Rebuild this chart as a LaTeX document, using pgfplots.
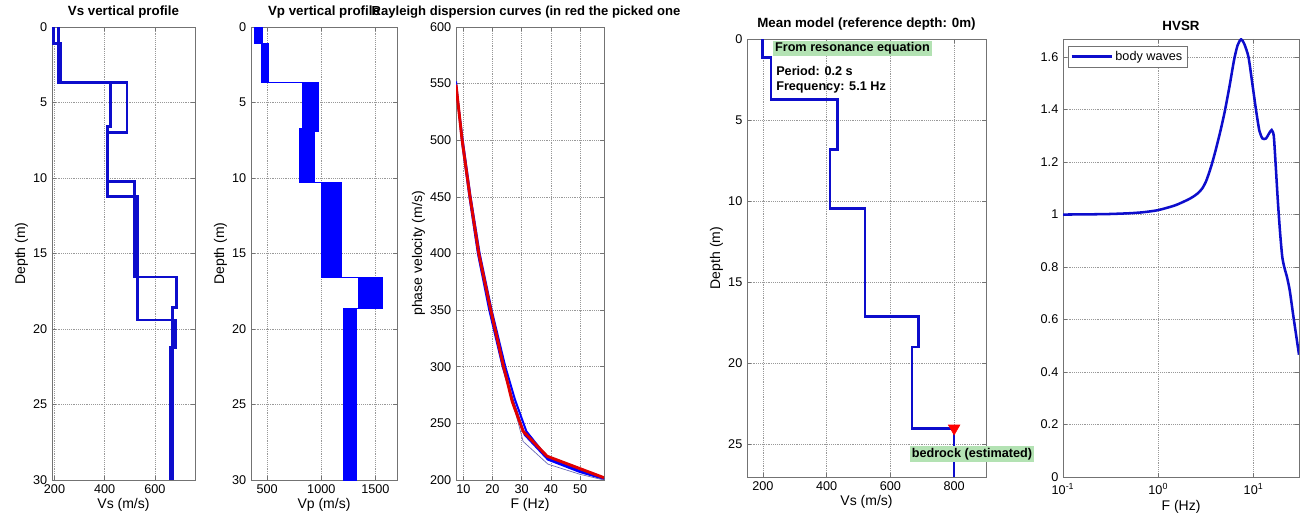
\documentclass[border=0pt]{standalone}
\usepackage{fontspec}
\setmainfont{Liberation Sans}
\usepackage{pgfplots}
\pgfplotsset{compat=1.18}
\definecolor{mblue}{rgb}{0,0,1}
\definecolor{dblue}{rgb}{0.05,0.05,0.8}
\definecolor{boxgreen}{HTML}{B3E2B3}
\definecolor{axgray}{rgb}{0.45,0.45,0.45}

\pgfplotsset{
  every axis/.append style={
    scale only axis,
    font=\fontsize{9.5}{11}\selectfont,
    /pgf/number format/assume math mode=true,
    /pgf/number format/set thousands separator={},
    axis line style={axgray},
    every tick/.style={axgray},
    tick align=inside,
    major tick length=3pt,
    grid=major,
    grid style={densely dotted, black!40},
    title style={font=\bfseries\fontsize{10}{12}\selectfont, yshift=-3pt},
    label style={font=\fontsize{10.5}{12}\selectfont},
    xlabel style={yshift=3pt},
    ylabel style={yshift=-3pt},
  },
}

\begin{document}
\begin{tikzpicture}
\useasboundingbox (0,0) rectangle (981.75pt,387.75pt);

% Vs vertical profile
\begin{axis}[
  at={(39pt,27.75pt)}, anchor=south west,
  width=107.25pt, height=339.75pt,
  xmin=190, xmax=760, ymin=0, ymax=30, y dir=reverse,
  xtick={200,400,600}, ytick={0,5,...,30},
  title={Vs vertical profile},
  xlabel={Vs (m/s)}, ylabel={Depth (m)},
]
\addplot[dblue, line width=2.1pt] coordinates {
  (196,0) (196,1.1) (226,1.1) (226,3.7) (489,3.7) (489,6.97) (409,6.97)
  (409,10.25) (519,10.25) (519,16.56) (685,16.56) (685,18.6) (669,18.6) (669,30)};
\addplot[dblue, line width=2.1pt] coordinates {
  (215,0) (215,3.7) (423,3.7) (423,6.6) (410,6.6) (410,11.2) (531,11.2)
  (531,19.4) (682,19.4) (682,21.2) (663,21.2) (663,30)};
\end{axis}

% Vp vertical profile
\begin{axis}[
  at={(188.25pt,27.75pt)}, anchor=south west,
  width=109.5pt, height=339.75pt,
  xmin=350, xmax=1700, ymin=0, ymax=30, y dir=reverse,
  xtick={500,1000,1500}, ytick={0,5,...,30},
  title={Vp vertical profile},
  xlabel={Vp (m/s)}, ylabel={Depth (m)},
]
\addplot[draw=mblue, fill=mblue, line width=0.8pt] coordinates {
  (383,0) (383,1.1) (448,1.1) (448,3.7) (825,3.7) (825,6.75) (797,6.75)
  (797,10.3) (1005,10.3) (1005,16.56) (1343,16.56) (1343,18.64) (1203,18.64) (1203,30)
  (1321,30) (1321,18.64) (1568,18.64) (1568,16.56) (1191,16.56) (1191,10.3)
  (937,10.3) (937,6.9) (971,6.9) (971,3.7) (516,3.7) (516,1.1) (460,1.1) (460,0)} -- cycle;
\end{axis}

% Rayleigh dispersion curves
\begin{axis}[
  at={(342pt,27.75pt)}, anchor=south west,
  width=111pt, height=339.75pt,
  xmin=7.5, xmax=58.2, ymin=200, ymax=600,
  xtick={10,20,...,50}, ytick={200,250,...,600},
  title={Rayleigh dispersion curves (in red the picked one},
  title style={xshift=-3pt, font=\bfseries\fontsize{9.8}{12}\selectfont},
  xlabel={F (Hz)}, ylabel={phase velocity (m/s)},
]
\addplot[mblue, line width=1.5pt] coordinates {
  (7.5,552) (9.5,500) (12.1,450) (15.0,400) (18.9,350) (23.5,300) (27.0,270)
  (31,240) (39,218) (50,207) (58.2,201)};
\addplot[mblue, line width=1.5pt] coordinates {
  (7.5,547) (9.8,500) (12.5,450) (15.6,400) (19.7,350) (24.4,300) (27.7,271)
  (31.6,243) (39,219) (50,208) (58.2,201)};
\addplot[black!50!blue!60, line width=0.5pt] coordinates {
  (7.5,550) (9.6,500) (12.2,450) (15.2,400) (19.4,350) (23.9,300) (27,268)
  (30.5,234) (39,214) (50,205) (58.2,200)};
\addplot[red!88!black, line width=2.2pt] coordinates {
  (7.5,549) (9.6,500) (12.3,450) (15.3,400) (19.4,350) (23.8,300) (26.8,269)
  (30.5,243) (38.7,221) (50,210) (58.2,202)};
\end{axis}

% Mean model
\begin{axis}[
  at={(560.25pt,30pt)}, anchor=south west,
  width=179.25pt, height=328.5pt,
  xmin=150, xmax=900, ymin=0, ymax=27, y dir=reverse,
  xtick={200,400,600,800}, ytick={0,5,...,25},
  title={Mean model (reference depth: 0m)},
  xlabel={Vs (m/s)}, ylabel={Depth (m)},
  clip=false,
]
\addplot[dblue, line width=1.8pt] coordinates {
  (198,0) (198,1.13) (226,1.13) (226,3.72) (434,3.72) (434,6.82) (410,6.82)
  (410,10.46) (520,10.46) (520,17.1) (688,17.1) (688,19.0) (667,19.0)
  (667,24.0) (800,24.0) (800,27)};
\addplot[only marks, mark=triangle*, mark size=5pt, mark options={rotate=180, fill=red, draw=red}]
  coordinates {(800,24.0)};
\node[anchor=north west, fill=boxgreen, inner sep=1.5pt, font=\bfseries\fontsize{9.5}{11}\selectfont]
  at (axis cs:231,0.08) {From resonance equation};
\node[anchor=west, inner sep=0pt, font=\bfseries\fontsize{9.5}{11}\selectfont]
  at (axis cs:241,2.0) {Period: 0.2 s};
\node[anchor=west, inner sep=0pt, font=\bfseries\fontsize{9.5}{11}\selectfont]
  at (axis cs:241,2.98) {Frequency: 5.1 Hz};
\node[anchor=north west, fill=boxgreen, inner sep=1.5pt, font=\bfseries\fontsize{9.5}{11}\selectfont]
  at (axis cs:660,25.1) {bedrock (estimated)};
\end{axis}

% HVSR
\begin{axis}[
  at={(797.25pt,30pt)}, anchor=south west,
  width=177pt, height=328.5pt,
  xmode=log, log basis x=10,
  xmin=0.1, xmax=30, ymin=0, ymax=1.669,
  xtick={0.1,1,10},
  xticklabels={10\textsuperscript{-1},10\textsuperscript{0},10\textsuperscript{1}},
  xticklabel style={yshift=-1.5pt},
  ytick={0,0.2,...,1.6},
  yticklabel style={/pgf/number format/fixed},
  xminorgrids=true,
  minor grid style={densely dotted, black!30},
  title={HVSR},
  xlabel={F (Hz)},
  legend style={at={(0.02,0.985)}, anchor=north west, draw=axgray,
    font=\fontsize{9.5}{11}\selectfont, inner sep=1.8pt},
  legend image code/.code={\draw[#1] (0cm,0cm) -- (1.05cm,0cm);},
]
\addplot[dblue, line width=1.9pt, smooth, tension=0.4] coordinates {
  (0.1,1.0) (0.2,1.001) (0.3,1.002) (0.5,1.005) (0.7,1.009) (1.0,1.017)
  (1.5,1.035) (2.0,1.055) (2.3,1.067) (2.6,1.081) (2.9,1.10) (3.2,1.13)
  (3.6,1.185) (4.0,1.245) (4.5,1.32) (5.0,1.395) (5.6,1.49) (6.25,1.59)
  (6.8,1.645) (7.4,1.668) (8.0,1.65) (8.85,1.6) (9.7,1.5) (10.6,1.4)
  (11.5,1.32) (12.4,1.29) (13.5,1.29) (14.6,1.31) (15.5,1.322) (16.3,1.30)
  (17.0,1.20) (18.0,1.05) (19.0,0.93) (20.0,0.84) (21.0,0.80) (22.5,0.76)
  (24,0.71) (26,0.62) (28,0.54) (30,0.466)};
\legend{body waves}
\end{axis}
\end{tikzpicture}
\end{document}
